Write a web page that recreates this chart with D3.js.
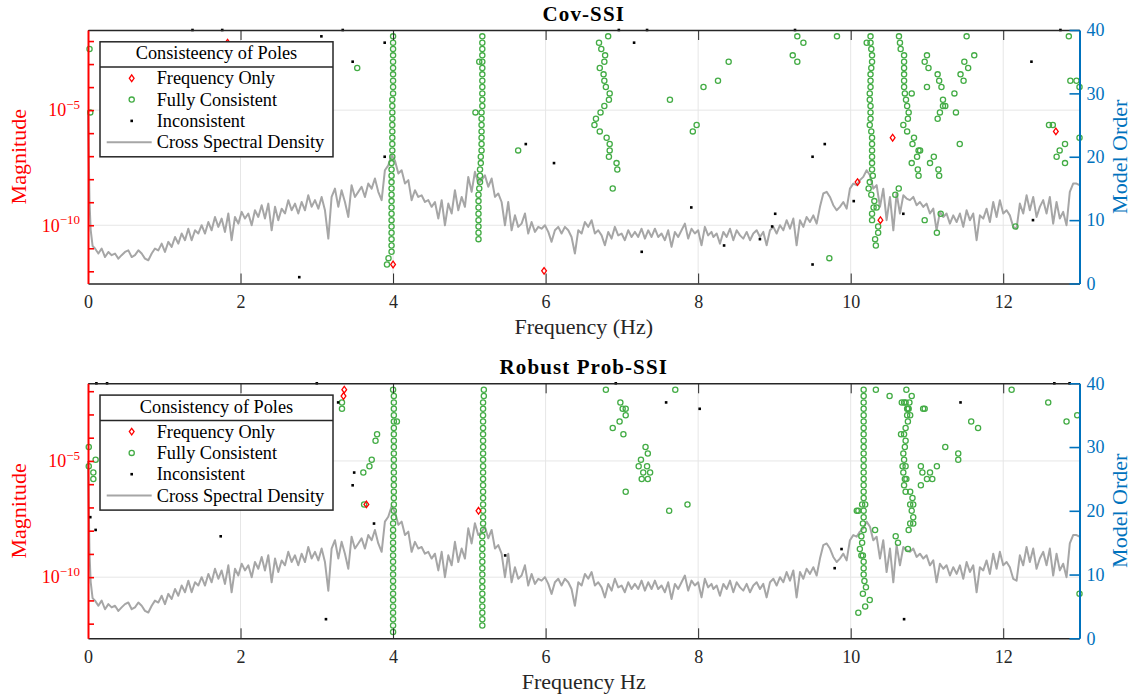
<!DOCTYPE html>
<html>
<head>
<meta charset="utf-8">
<script src="https://cdn.jsdelivr.net/npm/d3@7"></script>
<style>
  html, body { margin: 0; padding: 0; background: #ffffff; }
  svg { display: block; }
</style>
</head>
<body>
<svg id="fig" width="1133" height="696"></svg>
<script>
// ---------------------------------------------------------------------------
// Data
// ---------------------------------------------------------------------------
const freqTicks = [0, 2, 4, 6, 8, 10, 12];
const orderTicks = [0, 10, 20, 30, 40];
const magDecades = [-12, -11, -10, -9, -8, -7, -6, -5, -4, -3, -2];
const magLabeled = [-10, -5];
const legendLabels = ["Frequency Only", "Fully Consistent", "Inconsistent", "Cross Spectral Density"];

// Cross spectral density: [frequency Hz, log10 magnitude]
const csdSpectrum = [
  [0.000,-5.00],[0.010,-7.00],[0.020,-9.00],[0.035,-10.20],[0.060,-10.90],
  [0.092,-11.01],[0.136,-11.23],[0.179,-11.01],[0.223,-11.38],[0.267,-11.16],[0.310,-11.30],
  [0.354,-11.23],[0.398,-11.45],[0.441,-11.30],[0.485,-11.16],[0.529,-11.09],[0.573,-11.38],
  [0.616,-11.30],[0.660,-11.09],[0.704,-11.23],[0.747,-11.45],[0.791,-11.52],[0.835,-11.23],
  [0.878,-11.01],[0.922,-11.09],[0.966,-10.80],[1.009,-11.16],[1.053,-10.72],[1.097,-10.94],
  [1.141,-10.51],[1.184,-10.80],[1.228,-10.36],[1.272,-10.65],[1.315,-10.15],[1.359,-10.65],
  [1.403,-10.22],[1.446,-10.36],[1.490,-10.00],[1.534,-10.36],[1.578,-9.86],[1.621,-10.22],
  [1.665,-9.64],[1.709,-10.07],[1.752,-9.71],[1.796,-10.29],[1.840,-9.49],[1.883,-10.65],
  [1.927,-9.64],[1.971,-9.93],[2.015,-9.42],[2.058,-9.71],[2.102,-9.49],[2.146,-10.00],
  [2.189,-9.35],[2.233,-9.64],[2.277,-9.13],[2.320,-9.71],[2.364,-9.06],[2.408,-10.22],
  [2.452,-9.20],[2.495,-9.78],[2.539,-9.28],[2.583,-9.49],[2.626,-8.91],[2.670,-9.35],
  [2.714,-9.06],[2.757,-9.49],[2.801,-8.99],[2.845,-9.35],[2.888,-8.70],[2.932,-9.20],
  [2.976,-8.91],[3.020,-9.28],[3.063,-8.77],[3.107,-9.35],[3.151,-10.58],[3.194,-8.77],
  [3.238,-8.41],[3.282,-9.20],[3.325,-8.48],[3.369,-8.99],[3.413,-9.64],[3.456,-8.26],
  [3.500,-8.77],[3.544,-8.55],[3.587,-8.33],[3.631,-8.77],[3.675,-8.19],[3.719,-8.41],
  [3.762,-7.97],[3.806,-8.55],[3.850,-8.91],[3.893,-7.61],[3.937,-7.40],[3.981,-6.95],
  [4.025,-7.20],[4.069,-7.75],[4.112,-7.61],[4.156,-8.19],[4.200,-8.04],[4.243,-8.91],
  [4.287,-8.48],[4.331,-8.77],[4.374,-8.70],[4.418,-8.99],[4.462,-8.91],[4.505,-9.20],
  [4.549,-8.99],[4.593,-9.71],[4.637,-8.91],[4.680,-10.00],[4.724,-9.06],[4.768,-9.49],
  [4.811,-8.48],[4.855,-9.35],[4.899,-8.77],[4.942,-9.20],[4.986,-7.90],[5.030,-8.55],
  [5.073,-7.68],[5.117,-8.19],[5.161,-8.04],[5.204,-7.83],[5.248,-8.33],[5.292,-7.97],
  [5.336,-8.77],[5.379,-8.62],[5.423,-8.99],[5.467,-10.00],[5.510,-8.99],[5.554,-10.22],
  [5.598,-9.57],[5.641,-10.07],[5.685,-9.93],[5.729,-9.49],[5.772,-10.36],[5.816,-9.86],
  [5.860,-10.29],[5.904,-10.07],[5.947,-10.15],[5.991,-10.00],[6.035,-10.29],[6.078,-10.72],
  [6.122,-10.22],[6.166,-10.07],[6.209,-10.36],[6.253,-10.07],[6.297,-10.22],[6.340,-10.51],
  [6.384,-11.23],[6.428,-10.22],[6.472,-10.36],[6.515,-9.86],[6.559,-10.07],[6.603,-9.78],
  [6.646,-10.36],[6.690,-10.22],[6.734,-10.44],[6.777,-10.87],[6.821,-10.29],[6.865,-10.58],
  [6.908,-10.07],[6.952,-10.44],[6.996,-10.36],[7.039,-10.65],[7.083,-10.22],[7.127,-10.51],
  [7.170,-10.29],[7.214,-10.51],[7.258,-10.15],[7.302,-10.58],[7.345,-10.22],[7.389,-10.51],
  [7.433,-10.15],[7.476,-10.51],[7.520,-10.36],[7.564,-10.65],[7.607,-10.22],[7.651,-10.94],
  [7.695,-10.29],[7.738,-10.51],[7.782,-10.22],[7.826,-9.93],[7.869,-10.58],[7.913,-10.15],
  [7.957,-10.36],[8.000,-10.22],[8.044,-10.87],[8.088,-10.07],[8.131,-10.44],[8.175,-10.29],
  [8.199,-10.51],[8.243,-10.36],[8.286,-10.80],[8.330,-10.29],[8.374,-10.51],[8.418,-10.15],
  [8.461,-10.65],[8.505,-10.22],[8.549,-10.44],[8.592,-10.58],[8.636,-10.29],[8.680,-10.65],
  [8.723,-10.36],[8.767,-10.22],[8.811,-10.51],[8.854,-10.29],[8.898,-10.87],[8.942,-10.22],
  [8.986,-10.07],[9.029,-10.36],[9.073,-10.00],[9.117,-10.22],[9.160,-9.78],[9.204,-10.15],
  [9.248,-9.71],[9.291,-10.87],[9.335,-9.78],[9.379,-10.07],[9.422,-9.64],[9.466,-9.86],
  [9.510,-9.57],[9.554,-9.93],[9.597,-9.20],[9.641,-8.62],[9.685,-8.55],[9.728,-8.77],
  [9.772,-9.13],[9.816,-9.35],[9.859,-9.20],[9.903,-8.99],[9.947,-9.28],[9.990,-8.41],
  [10.034,-8.19],[10.078,-8.26],[10.121,-8.04],[10.165,-7.90],[10.209,-7.61],[10.253,-7.83],
  [10.296,-8.41],[10.340,-8.26],[10.384,-9.20],[10.427,-8.41],[10.471,-9.78],[10.515,-8.77],
  [10.559,-10.22],[10.602,-8.62],[10.646,-9.49],[10.690,-8.70],[10.733,-8.84],[10.777,-8.91],
  [10.821,-8.77],[10.864,-9.13],[10.908,-8.99],[10.952,-9.20],[10.995,-9.06],[11.039,-9.49],
  [11.083,-9.28],[11.126,-10.22],[11.170,-9.42],[11.214,-9.64],[11.257,-9.49],[11.301,-9.93],
  [11.345,-9.57],[11.389,-9.86],[11.432,-9.49],[11.476,-10.07],[11.520,-9.35],[11.563,-9.78],
  [11.607,-9.49],[11.651,-10.65],[11.694,-9.57],[11.738,-9.71],[11.782,-9.28],[11.825,-9.86],
  [11.869,-8.99],[11.913,-9.64],[11.956,-8.91],[12.000,-9.49],[12.044,-9.35],[12.087,-9.57],
  [12.131,-10.07],[12.175,-10.15],[12.218,-9.06],[12.262,-9.49],[12.306,-8.70],[12.349,-9.35],
  [12.393,-8.77],[12.437,-9.64],[12.480,-9.20],[12.524,-8.91],[12.568,-9.49],[12.611,-8.77],
  [12.655,-9.93],[12.699,-8.99],[12.742,-9.71],[12.786,-9.42],[12.830,-10.00],[12.873,-8.55],
  [12.917,-8.19],[12.961,-8.19],[13.000,-8.26]
];

// Stabilisation poles: [frequency Hz, model order]
const covFreqOnly = [[1.83,38],[4.00,3],[5.98,2],[10.09,16],[10.39,10],[10.55,23],[12.69,24]];

const covFully = [
  [0.02,37],[0.03,27],[3.53,34],
  [3.92,3],[3.94,4],[3.98,5],[3.98,6],[3.98,7],[3.98,8],[3.98,9],[3.98,10],[3.98,11],[3.98,12],
  [3.98,13],[3.98,14],[3.98,15],[3.98,16],[3.98,17],[3.98,18],[3.98,19],[3.99,20],[3.99,21],
  [3.99,22],[3.99,23],[3.99,24],[3.99,25],[3.99,26],[3.99,27],[3.99,28],[3.99,29],[4.00,30],
  [4.00,31],[4.00,32],[4.00,33],[4.00,34],[4.00,35],[4.00,36],[4.00,37],[4.00,38],[4.00,39],
  [5.12,7],[5.12,8],[5.12,9],[5.12,10],[5.12,11],[5.12,12],[5.12,13],[5.12,14],[5.13,15],
  [5.14,16],[5.14,17],[5.14,18],[5.15,19],[5.15,20],[5.16,21],[5.16,22],[5.16,23],[5.16,24],
  [5.16,25],[5.16,26],[5.16,27],[5.08,27],[5.17,28],[5.17,29],[5.17,30],[5.17,31],[5.17,32],
  [5.17,33],[5.17,34],[5.17,35],[5.13,35],[5.17,36],[5.17,37],[5.17,38],[5.17,39],
  [5.64,21],
  [6.82,39],[6.70,38],[6.73,37],[6.78,36],[6.77,35],[6.71,34],[6.76,33],[6.77,32],[6.79,31],
  [6.84,30],[6.83,29],[6.77,28],[6.72,27],[6.66,26],[6.64,25],[6.71,24],[6.80,23],[6.84,22],
  [6.84,21],[6.83,20],[6.93,19],[6.94,18],[6.88,15],
  [7.63,29],[7.93,24],[7.98,25],[8.07,31],[8.26,32],[8.40,35],
  [9.30,39],[9.38,38],[9.24,36],[9.30,35],[9.82,39],[9.72,4],
  [10.33,6],[10.32,7],[10.36,8],[10.36,9],[10.28,10],[10.28,11],[10.30,12],[10.34,12],[10.31,13],
  [10.27,14],[10.235,15],[10.25,16],[10.29,17],[10.28,18],[10.28,19],[10.28,20],[10.28,21],
  [10.28,22],[10.28,23],[10.27,24],[10.25,25],[10.26,26],[10.26,27],[10.26,28],[10.25,29],
  [10.25,30],[10.26,31],[10.26,32],[10.26,33],[10.27,34],[10.28,35],[10.28,36],[10.27,37],
  [10.26,38],[10.21,38],[10.26,39],
  [10.89,17],[10.88,18],[10.80,19],[10.87,20],[10.89,21],[10.91,21],[10.81,22],[10.83,23],
  [10.74,24],[10.69,25],[10.75,26],[10.76,27],[10.74,28],[10.725,29],[10.71,30],[10.80,30],
  [10.70,31],[10.70,32],[10.70,33],[10.70,34],[10.70,35],[10.70,36],[10.655,37],[10.646,38],
  [10.633,39],
  [10.97,35],[11.00,36],[11.02,34],[11.00,31],[11.14,33],[11.16,32],[11.19,31],[11.21,29],
  [11.21,28],[11.24,28],[11.17,27],[11.14,26],[11.36,30],[11.38,27],[11.44,33],[11.48,32],
  [11.49,35],[11.54,34],[11.62,36],[11.52,39],[11.43,22],[11.09,20],[11.04,19],[11.15,18],
  [11.16,17],[10.97,10],[11.18,11],[11.13,8],[10.63,15],[10.585,14],[12.16,9],
  [12.60,25],[12.65,25],[12.81,22],[12.74,21],[12.70,20],[12.81,19],[13.00,23],[12.86,39],
  [12.88,32],[12.96,32],[13.00,31]
];

const covInconsistent = [
  [3.89,38],[3.89,20],[5.74,22],[6.11,19],[7.16,38],[7.91,12],[7.26,5],[8.34,6],[3.06,39],
  [3.47,35],[2.77,1],[8.81,7],[8.97,9],[9.01,11],[9.50,3],[9.50,20],[9.66,22],[10.04,13],
  [10.69,11],[12.37,35],[12.39,10],[1.37,40],[1.76,40],[3.34,40],[6.96,40],[7.33,40],
  [9.27,40],[12.75,40]
];

const probFreqOnly = [[3.36,39],[3.35,38],[3.65,21],[5.12,20]];

const probFully = [
  [0.01,30],[0.01,27],[0.10,28],[0.07,26],[0.07,25],
  [3.33,37],[3.33,36],[3.79,32],[3.77,31],[3.72,28],[3.69,27],[3.61,26],[3.62,21],
  [4.00,1],[4.00,2],[4.00,3],[4.00,4],[4.00,5],[4.00,6],[4.00,7],[4.00,8],[4.00,9],[4.00,10],
  [4.00,11],[4.00,12],[4.00,13],[4.00,14],[4.00,15],[4.00,16],[4.00,17],[4.00,18],[4.01,19],
  [4.01,20],[4.01,21],[4.01,22],[4.01,23],[4.01,24],[4.01,25],[4.01,26],[4.01,27],[4.01,28],
  [4.01,29],[4.01,30],[4.01,31],[4.01,32],[4.01,33],[4.01,34],[4.05,34],[4.01,35],[4.01,36],
  [4.01,37],[4.01,38],[4.00,39],
  [5.17,2],[5.17,3],[5.17,4],[5.17,5],[5.17,6],[5.17,7],[5.17,8],[5.17,9],[5.17,10],[5.17,11],
  [5.17,12],[5.17,13],[5.17,14],[5.17,15],[5.17,16],[5.18,17],[5.18,18],[5.18,19],[5.18,20],
  [5.18,21],[5.18,22],[5.18,23],[5.18,24],[5.18,25],[5.18,26],[5.18,27],[5.18,28],[5.18,29],
  [5.18,30],[5.18,31],[5.18,32],[5.18,33],[5.18,34],[5.18,35],[5.18,36],[5.18,37],[5.19,38],
  [5.19,39],
  [6.79,39],[7.70,39],[6.98,37],[7.01,36],[7.05,36],[7.05,35],[6.97,34],[6.88,33],[7.02,32],
  [7.31,30],[7.34,29],[7.25,28],[7.22,27],[7.33,27],[7.28,26],[7.37,26],[7.26,25],[7.34,25],
  [7.05,23],[7.86,21],[7.62,20],
  [10.10,4],[10.19,5],[10.25,6],[10.16,7],[10.20,8],[10.18,9],[10.17,10],[10.17,11],[10.17,12],
  [10.14,13],[10.16,13],[10.12,14],[10.15,15],[10.14,16],[10.17,17],[10.16,18],[10.17,19],
  [10.08,20],[10.10,20],[10.17,20],[10.15,21],[10.19,21],[10.17,22],[10.17,23],[10.17,24],
  [10.17,25],[10.17,26],[10.17,27],[10.17,28],[10.17,29],[10.17,30],[10.17,31],[10.17,32],
  [10.17,33],[10.17,34],[10.17,35],[10.17,36],[10.17,37],[10.17,38],[10.17,39],
  [10.76,17],[10.78,18],[10.82,18],[10.82,19],[10.80,20],[10.78,21],[10.82,21],[10.81,22],
  [10.72,23],[10.78,23],[10.70,24],[10.71,25],[10.73,25],[10.69,26],[10.68,27],[10.72,27],
  [10.70,28],[10.69,29],[10.71,30],[10.72,31],[10.66,32],[10.70,32],[10.72,33],[10.75,34],
  [10.74,35],[10.78,35],[10.74,36],[10.75,36],[10.76,36],[10.67,37],[10.70,37],[10.72,37],
  [10.77,37],[10.80,38],[10.73,39],
  [10.33,39],[10.51,38],[10.95,36],[10.97,36],[10.92,27],[10.94,26],[11.04,26],[11.00,25],
  [11.07,25],[10.92,24],[11.13,27],[11.24,30],[11.41,29],[11.41,28],[11.58,34],[11.67,33],
  [12.11,39],[12.59,37],[12.83,34],[12.97,35],[13.00,7],[10.32,17],[10.59,16],[10.62,15],
  [10.75,14]
];

const probInconsistent = [
  [0.03,19],[0.10,17],[1.74,16],[3.12,3],[3.28,37],[3.49,26],[3.47,24],[3.75,18],[5.47,13],
  [7.58,37],[8.02,36],[11.44,37],[9.88,14],[9.79,11],[10.70,3],[0.11,40],[0.25,40],[3.00,40],
  [6.92,40],[12.67,40],[12.87,40]
];

// ---------------------------------------------------------------------------
// Layout and styles
// ---------------------------------------------------------------------------
const FONT = "'Liberation Serif','Times New Roman',serif";
const AXIS_GREY = "#262626";
const MAG_RED = "#ff0000";
const ORDER_BLUE = "#0072bd";
const CSD_GREY = "#a6a6a6";
const POLE_GREEN = "#43ac45";
const GRID_GREY = "#e6e6e6";
const PLOT_LEFT = 88, PLOT_RIGHT = 1079.5;

const panels = [
  { title: "Cov-SSI", xLabel: "Frequency (Hz)", legendTitle: "Consisteency of Poles",
    top: 30, bottom: 283.5, magRange: [-12.53, -1.52],
    freqOnly: covFreqOnly, fully: covFully, inconsistent: covInconsistent },
  { title: "Robust Prob-SSI", xLabel: "Frequency Hz", legendTitle: "Consistency of Poles",
    top: 383.3, bottom: 638.3, magRange: [-12.63, -1.66],
    freqOnly: probFreqOnly, fully: probFully, inconsistent: probInconsistent }
];

// A slim diamond marker
const slimDiamond = {
  draw(context, size) {
    const r = Math.sqrt(size) / 2;
    context.moveTo(0, -r);
    context.lineTo(r * 0.72, 0);
    context.lineTo(0, r);
    context.lineTo(-r * 0.72, 0);
    context.closePath();
  }
};
const diamondPath = d3.symbol().type(slimDiamond).size(44)();

const svg = d3.select("#fig");

function styleAxis(g, color, fontSize) {
  g.attr("font-family", FONT).attr("font-size", fontSize).attr("color", color);
}

function drawFreqOnly(g, pts, x, y) {
  g.append("g").selectAll("path").data(pts).join("path")
    .attr("d", diamondPath)
    .attr("transform", d => `translate(${x(d[0])},${y(d[1])})`)
    .attr("fill", "none").attr("stroke", MAG_RED).attr("stroke-width", 1.3);
}
function drawFully(g, pts, x, y) {
  g.append("g").selectAll("circle").data(pts).join("circle")
    .attr("cx", d => x(d[0])).attr("cy", d => y(d[1])).attr("r", 2.6)
    .attr("fill", "none").attr("stroke", POLE_GREEN).attr("stroke-width", 1.3);
}
function drawInconsistent(g, pts, x, y) {
  g.append("g").selectAll("rect").data(pts).join("rect")
    .attr("x", d => x(d[0]) - 1.3).attr("y", d => y(d[1]) - 1.3)
    .attr("width", 2.6).attr("height", 2.6).attr("fill", "#000");
}

function drawPanel(p) {
  const g = svg.append("g");
  const x = d3.scaleLinear().domain([0, 13]).range([PLOT_LEFT, PLOT_RIGHT]);
  const yMag = d3.scaleLog().domain([10 ** p.magRange[0], 10 ** p.magRange[1]]).range([p.bottom, p.top]);
  const yOrd = d3.scaleLinear().domain([0, 40]).range([p.bottom, p.top]);

  // grid
  const grid = g.append("g").attr("stroke", GRID_GREY).attr("stroke-width", 1);
  grid.selectAll("line.v").data(freqTicks.filter(d => d > 0)).join("line")
    .attr("class", "v").attr("x1", d => x(d)).attr("x2", d => x(d))
    .attr("y1", p.top).attr("y2", p.bottom);
  grid.selectAll("line.h").data(magLabeled).join("line")
    .attr("class", "h").attr("x1", PLOT_LEFT).attr("x2", PLOT_RIGHT)
    .attr("y1", d => yMag(10 ** d)).attr("y2", d => yMag(10 ** d));

  // cross spectral density
  const line = d3.line().x(d => x(d[0])).y(d => yMag(10 ** d[1]));
  g.append("path").datum(csdSpectrum).attr("d", line)
    .attr("fill", "none").attr("stroke", CSD_GREY).attr("stroke-width", 2)
    .attr("stroke-linejoin", "round");

  // poles
  drawFully(g, p.fully, x, yOrd);
  drawInconsistent(g, p.inconsistent, x, yOrd);
  drawFreqOnly(g, p.freqOnly, x, yOrd);

  // x axes (bottom with labels, top without)
  const xb = g.append("g").attr("transform", `translate(0,${p.bottom})`)
    .call(d3.axisBottom(x).tickValues(freqTicks).tickSizeInner(-10).tickSizeOuter(0).tickPadding(12));
  styleAxis(xb, AXIS_GREY, 18);
  xb.select(".domain").attr("stroke-width", 1.6);
  const xt = g.append("g").attr("transform", `translate(0,${p.top})`)
    .call(d3.axisTop(x).tickValues(freqTicks).tickSizeInner(-10).tickSizeOuter(0).tickFormat(""));
  styleAxis(xt, AXIS_GREY, 18);
  xt.select(".domain").attr("stroke-width", 1.6);

  // left magnitude axis
  const yl = g.append("g").attr("transform", `translate(${PLOT_LEFT},0)`)
    .call(d3.axisLeft(yMag).tickValues(magDecades.map(e => 10 ** e))
      .tickSizeInner(-6).tickSizeOuter(0).tickPadding(8).tickFormat(() => ""));
  styleAxis(yl, MAG_RED, 18);
  yl.select(".domain").attr("stroke-width", 2);
  yl.selectAll(".tick line").attr("stroke-width", 1.6);
  yl.selectAll(".tick text").each(function (d) {
    const e = Math.round(Math.log10(d));
    if (!magLabeled.includes(e)) return;
    const t = d3.select(this);
    t.append("tspan").text("10");
    t.append("tspan").attr("dy", -7.5).attr("font-size", 13).text("\u2212" + (-e));
  });

  // right model-order axis
  const yr = g.append("g").attr("transform", `translate(${PLOT_RIGHT},0)`)
    .call(d3.axisRight(yOrd).tickValues(orderTicks).tickSizeInner(-10).tickSizeOuter(0).tickPadding(7));
  styleAxis(yr, ORDER_BLUE, 18);
  yr.select(".domain").attr("stroke-width", 2);
  yr.selectAll(".tick line").attr("stroke-width", 1.6);

  // titles and axis labels
  const midX = (PLOT_LEFT + PLOT_RIGHT) / 2;
  const midY = (p.top + p.bottom) / 2;
  g.append("text").attr("x", midX).attr("y", p.top - 9.5)
    .attr("text-anchor", "middle").attr("font-family", FONT).attr("font-weight", "bold")
    .attr("font-size", 21).attr("letter-spacing", 1.1).attr("fill", "#000").text(p.title);
  g.append("text").attr("x", midX).attr("y", p.bottom + 50.5)
    .attr("text-anchor", "middle").attr("font-family", FONT).attr("font-size", 22)
    .attr("fill", AXIS_GREY).text(p.xLabel);
  g.append("text").attr("transform", `translate(26,${midY}) rotate(-90)`)
    .attr("text-anchor", "middle").attr("font-family", FONT).attr("font-size", 22)
    .attr("fill", MAG_RED).text("Magnitude");
  g.append("text").attr("transform", `translate(1127,${midY}) rotate(-90)`)
    .attr("text-anchor", "middle").attr("font-family", FONT).attr("font-size", 22)
    .attr("fill", ORDER_BLUE).text("Model Order");

  // legend
  const lx = 100, ly = p.top + 11.8, lw = 233, lh = 115;
  const lg = g.append("g");
  lg.append("rect").attr("x", lx).attr("y", ly).attr("width", lw).attr("height", lh)
    .attr("fill", "#fff").attr("stroke", AXIS_GREY).attr("stroke-width", 1.5);
  lg.append("line").attr("x1", lx).attr("x2", lx + lw).attr("y1", ly + 25.3).attr("y2", ly + 25.3)
    .attr("stroke", AXIS_GREY).attr("stroke-width", 1.5);
  lg.append("text").attr("x", lx + lw / 2).attr("y", ly + 17.5).attr("text-anchor", "middle")
    .attr("font-family", FONT).attr("font-size", 18.3).attr("fill", "#000").text(p.legendTitle);
  const rowY = [36.5, 57.8, 79.1, 100.4].map(v => ly + v);
  const mx = 131.7;
  lg.append("path").attr("d", diamondPath).attr("transform", `translate(${mx},${rowY[0]})`)
    .attr("fill", "none").attr("stroke", MAG_RED).attr("stroke-width", 1.3);
  lg.append("circle").attr("cx", mx).attr("cy", rowY[1]).attr("r", 2.6)
    .attr("fill", "none").attr("stroke", POLE_GREEN).attr("stroke-width", 1.3);
  lg.append("rect").attr("x", mx - 1.3).attr("y", rowY[2] - 1.3).attr("width", 2.6).attr("height", 2.6)
    .attr("fill", "#000");
  lg.append("line").attr("x1", 106.7).attr("x2", 151.7).attr("y1", rowY[3]).attr("y2", rowY[3])
    .attr("stroke", CSD_GREY).attr("stroke-width", 2);
  lg.selectAll("text.entry").data(legendLabels).join("text").attr("class", "entry")
    .attr("x", 156.7).attr("y", (d, i) => rowY[i] + 6)
    .attr("font-family", FONT).attr("font-size", 18.3).attr("fill", "#000").text(d => d);
}

panels.forEach(drawPanel);
</script>
</body>
</html>
